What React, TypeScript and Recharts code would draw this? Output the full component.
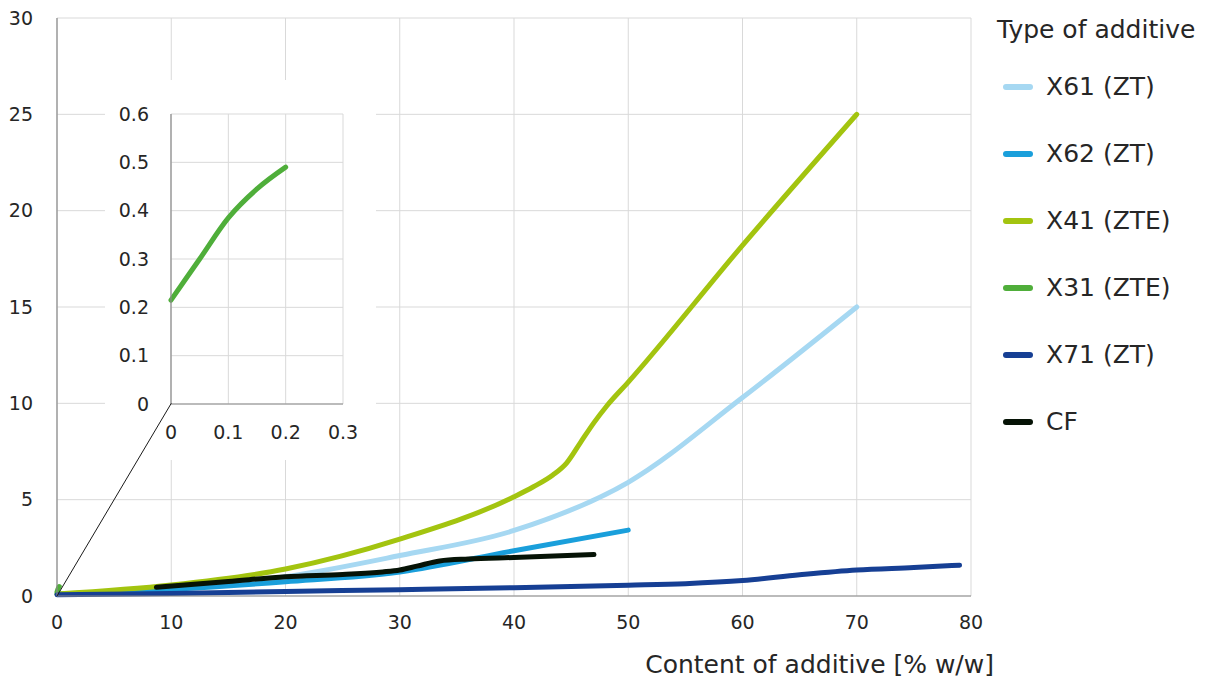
import React from "react";
import { LineChart, Line, XAxis, YAxis, CartesianGrid } from "recharts";

// ---------- data ----------
const xTicks = [0, 10, 20, 30, 40, 50, 60, 70, 80];
const yTicks = [0, 5, 10, 15, 20, 25, 30];
const insetXTicks = [0, 0.1, 0.2, 0.3];
const insetYTicks = [0, 0.1, 0.2, 0.3, 0.4, 0.5, 0.6];

const x61X = [0, 10, 20, 30, 40, 50, 60, 70];
const x61Y = [0.1, 0.4, 1.0, 2.1, 3.4, 5.9, 10.3, 15.0];

const x62X = [0, 10, 20, 30, 40, 50];
const x62Y = [0.1, 0.35, 0.74, 1.25, 2.35, 3.42];

const x41X = [0, 10, 20, 30, 40, 41.7, 43.4, 44.6, 45.8, 47, 48.1, 50, 60, 70];
const x41Y = [0.1, 0.57, 1.4, 2.95, 5.15, 5.67, 6.28, 6.9, 7.95, 9.0, 9.85, 11.1, 18.2, 25.0];

const x31X = [0, 0.05, 0.1, 0.15, 0.2];
const x31Y = [0.215, 0.3, 0.385, 0.445, 0.49];

const x71X = [0, 10, 20, 30, 40, 50, 55, 60, 65, 70, 75, 79];
const x71Y = [0.06, 0.13, 0.23, 0.33, 0.43, 0.56, 0.64, 0.8, 1.1, 1.35, 1.48, 1.6];

const cfX = [8.7, 15, 20, 25, 28.5, 30, 31.5, 33.5, 36, 40, 47];
const cfY = [0.45, 0.75, 1.0, 1.12, 1.25, 1.35, 1.55, 1.82, 1.92, 2.0, 2.15];

// zoom connector: from main origin to the inset's origin (in main-axis units)
const connectorX = [0, 10];
const connectorY = [0, 10];

const zip = (xs: number[], ys: number[]) => xs.map((x, i) => ({ x, y: ys[i] }));

const series = [
  { name: "X61 (ZT)", color: "#a6d8f2", data: zip(x61X, x61Y) },
  { name: "X62 (ZT)", color: "#1a9fdb", data: zip(x62X, x62Y) },
  { name: "X41 (ZTE)", color: "#a3c40f", data: zip(x41X, x41Y) },
  { name: "X31 (ZTE)", color: "#4fae3a", data: zip(x31X, x31Y) },
  { name: "X71 (ZT)", color: "#163f94", data: zip(x71X, x71Y) },
  { name: "CF", color: "#061306", data: zip(cfX, cfY) },
];

const FONT = "'DejaVu Sans', sans-serif";
const TEXT = "#262626";
const GRID = "#d9d9d9";
const AXIS = "#8a8a8a";

export default function App() {
  const tickStyle = { fontSize: 19, fill: TEXT, fontFamily: FONT };
  const mainMargin = { top: 18, right: 234, bottom: 0, left: 0 };
  return (
    <div
      style={{
        position: "absolute",
        left: 0,
        top: 0,
        width: 1205,
        height: 684,
        background: "#fff",
        fontFamily: FONT,
        overflow: "hidden",
      }}
    >
      {/* Layer 1: main chart */}
      <div style={{ position: "absolute", left: 0, top: 0 }}>
        <LineChart width={1205} height={684} margin={mainMargin}>
          <CartesianGrid stroke={GRID} strokeWidth={1} />
          <XAxis
            type="number"
            dataKey="x"
            domain={[0, 80]}
            ticks={xTicks}
            height={88}
            tickLine={false}
            tickSize={6}
            tickMargin={14}
            axisLine={{ stroke: AXIS, strokeWidth: 1.2 }}
            tick={tickStyle}
            interval={0}
          />
          <YAxis
            type="number"
            domain={[0, 30]}
            ticks={yTicks}
            width={57}
            tickLine={false}
            tickSize={6}
            tickMargin={18}
            axisLine={{ stroke: AXIS, strokeWidth: 1.2 }}
            tick={tickStyle}
            interval={0}
          />
          {series.map((s) => (
            <Line
              key={s.name}
              data={s.data}
              dataKey="y"
              name={s.name}
              type="monotone"
              stroke={s.color}
              strokeWidth={5}
              strokeLinecap="round"
              dot={false}
              activeDot={false}
              isAnimationActive={false}
            />
          ))}
        </LineChart>
      </div>

      {/* Layer 2: inset */}
      <div
        style={{
          position: "absolute",
          left: 105,
          top: 80,
          width: 271,
          height: 380,
          background: "#fff",
        }}
      >
        <LineChart width={271} height={380} margin={{ top: 34, right: 33, bottom: 0, left: 0 }}>
          <CartesianGrid stroke={GRID} strokeWidth={1} />
          <XAxis
            type="number"
            dataKey="x"
            domain={[0, 0.3]}
            ticks={insetXTicks}
            height={56}
            tickLine={false}
            tickSize={6}
            tickMargin={16}
            axisLine={{ stroke: AXIS, strokeWidth: 1.2 }}
            tick={tickStyle}
            interval={0}
          />
          <YAxis
            type="number"
            domain={[0, 0.6]}
            ticks={insetYTicks}
            width={66}
            tickLine={false}
            tickSize={6}
            tickMargin={16}
            axisLine={{ stroke: AXIS, strokeWidth: 1.2 }}
            tick={tickStyle}
            interval={0}
          />
          <Line
            data={series[3].data}
            dataKey="y"
            type="monotone"
            stroke={series[3].color}
            strokeWidth={5}
            strokeLinecap="round"
            dot={false}
            activeDot={false}
            isAnimationActive={false}
          />
        </LineChart>
      </div>

      {/* Layer 3: connector line on top */}
      <div style={{ position: "absolute", left: 0, top: 0, pointerEvents: "none" }}>
        <LineChart width={1205} height={684} margin={mainMargin}>
          <XAxis type="number" dataKey="x" domain={[0, 80]} ticks={xTicks} height={88} tick={false} tickLine={false} axisLine={false} />
          <YAxis type="number" domain={[0, 30]} ticks={yTicks} width={57} tick={false} tickLine={false} axisLine={false} />
          <Line
            data={zip(connectorX, connectorY)}
            dataKey="y"
            type="linear"
            stroke="#1a1a1a"
            strokeWidth={1}
            dot={false}
            activeDot={false}
            isAnimationActive={false}
          />
        </LineChart>
      </div>

      {/* x-axis title */}
      <div
        style={{
          position: "absolute",
          right: 1205 - 994,
          top: 648,
          fontSize: 25,
          color: TEXT,
          whiteSpace: "nowrap",
          lineHeight: "34px",
        }}
      >
        Content of additive [% w/w]
      </div>

      {/* legend */}
      <div style={{ position: "absolute", left: 997, top: 13, color: TEXT }}>
        <div style={{ fontSize: 25, lineHeight: "34px", whiteSpace: "nowrap" }}>Type of additive</div>
      </div>
      {series.map((s, i) => (
        <div
          key={s.name}
          style={{
            position: "absolute",
            left: 1003,
            top: 87 + i * 67 - 17,
            height: 34,
            display: "flex",
            alignItems: "center",
            color: TEXT,
            whiteSpace: "nowrap",
          }}
        >
          <div style={{ width: 30, height: 6, borderRadius: 3, background: s.color }} />
          <div style={{ marginLeft: 13, fontSize: 25, lineHeight: "34px" }}>{s.name}</div>
        </div>
      ))}
    </div>
  );
}
